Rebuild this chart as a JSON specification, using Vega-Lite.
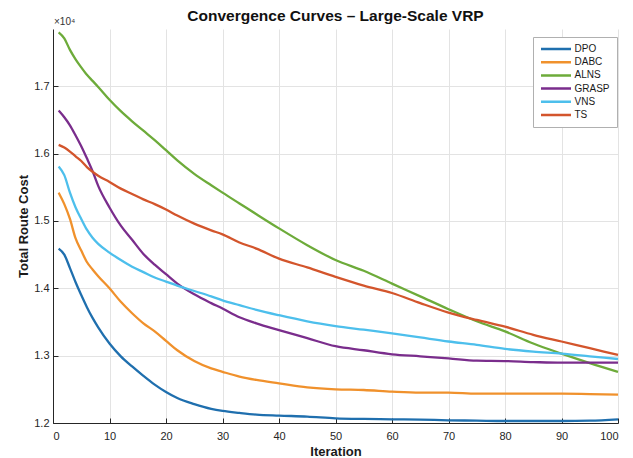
{
  "$schema": "https://vega.github.io/schema/vega-lite/v6.json",
  "width": 565,
  "height": 394,
  "autosize": {"type": "none"},
  "padding": {"left": 53, "top": 29, "right": 15, "bottom": 35},
  "background": "white",
  "config": {
    "font": "Liberation Sans",
    "view": {"stroke": null},
    "axis": {
      "gridColor": "#e3e3e3",
      "gridWidth": 1,
      "domainColor": "#262626",
      "domainWidth": 1,
      "tickColor": "#262626",
      "labelColor": "#262626",
      "labelFont": "Liberation Sans",
      "labelFontSize": 11,
      "titleFont": "Liberation Sans",
      "titleFontSize": 13,
      "titleFontWeight": "bold",
      "titleColor": "#1a1a1a"
    }
  },
  "title": {
    "text": "Convergence Curves – Large-Scale VRP",
    "fontSize": 15.5,
    "fontWeight": "bold",
    "font": "Liberation Sans",
    "color": "#111111",
    "anchor": "middle",
    "offset": -7
  },
  "data": {
    "values": [
      {"algo":"DPO","it":1,"cost":14590},{"algo":"DPO","it":2,"cost":14500},{"algo":"DPO","it":3,"cost":14300},{"algo":"DPO","it":4,"cost":14090},{"algo":"DPO","it":5,"cost":13900},{"algo":"DPO","it":6,"cost":13720},{"algo":"DPO","it":7,"cost":13560},{"algo":"DPO","it":8,"cost":13420},{"algo":"DPO","it":10,"cost":13180},{"algo":"DPO","it":12,"cost":12990},{"algo":"DPO","it":14,"cost":12840},{"algo":"DPO","it":16,"cost":12700},{"algo":"DPO","it":18,"cost":12570},{"algo":"DPO","it":20,"cost":12460},{"algo":"DPO","it":22,"cost":12370},{"algo":"DPO","it":25,"cost":12280},{"algo":"DPO","it":28,"cost":12210},{"algo":"DPO","it":30,"cost":12180},{"algo":"DPO","it":33,"cost":12150},{"algo":"DPO","it":36,"cost":12125},{"algo":"DPO","it":40,"cost":12110},{"algo":"DPO","it":45,"cost":12095},{"algo":"DPO","it":50,"cost":12070},{"algo":"DPO","it":55,"cost":12060},{"algo":"DPO","it":60,"cost":12055},{"algo":"DPO","it":65,"cost":12050},{"algo":"DPO","it":70,"cost":12040},{"algo":"DPO","it":75,"cost":12035},{"algo":"DPO","it":80,"cost":12030},{"algo":"DPO","it":85,"cost":12030},{"algo":"DPO","it":90,"cost":12030},{"algo":"DPO","it":95,"cost":12035},{"algo":"DPO","it":100,"cost":12055},
      {"algo":"DABC","it":1,"cost":15420},{"algo":"DABC","it":2,"cost":15250},{"algo":"DABC","it":3,"cost":15030},{"algo":"DABC","it":4,"cost":14740},{"algo":"DABC","it":5,"cost":14560},{"algo":"DABC","it":6,"cost":14390},{"algo":"DABC","it":7,"cost":14280},{"algo":"DABC","it":8,"cost":14180},{"algo":"DABC","it":10,"cost":14000},{"algo":"DABC","it":12,"cost":13800},{"algo":"DABC","it":14,"cost":13630},{"algo":"DABC","it":16,"cost":13480},{"algo":"DABC","it":18,"cost":13360},{"algo":"DABC","it":20,"cost":13220},{"algo":"DABC","it":22,"cost":13080},{"algo":"DABC","it":25,"cost":12920},{"algo":"DABC","it":28,"cost":12810},{"algo":"DABC","it":30,"cost":12760},{"algo":"DABC","it":33,"cost":12690},{"algo":"DABC","it":36,"cost":12640},{"algo":"DABC","it":40,"cost":12590},{"algo":"DABC","it":45,"cost":12530},{"algo":"DABC","it":50,"cost":12500},{"algo":"DABC","it":55,"cost":12490},{"algo":"DABC","it":60,"cost":12465},{"algo":"DABC","it":65,"cost":12450},{"algo":"DABC","it":70,"cost":12450},{"algo":"DABC","it":75,"cost":12435},{"algo":"DABC","it":80,"cost":12435},{"algo":"DABC","it":85,"cost":12435},{"algo":"DABC","it":90,"cost":12435},{"algo":"DABC","it":95,"cost":12430},{"algo":"DABC","it":100,"cost":12420},
      {"algo":"ALNS","it":1,"cost":17800},{"algo":"ALNS","it":2,"cost":17710},{"algo":"ALNS","it":3,"cost":17540},{"algo":"ALNS","it":4,"cost":17400},{"algo":"ALNS","it":5,"cost":17280},{"algo":"ALNS","it":6,"cost":17170},{"algo":"ALNS","it":7,"cost":17080},{"algo":"ALNS","it":8,"cost":16990},{"algo":"ALNS","it":10,"cost":16800},{"algo":"ALNS","it":12,"cost":16630},{"algo":"ALNS","it":14,"cost":16480},{"algo":"ALNS","it":16,"cost":16340},{"algo":"ALNS","it":18,"cost":16200},{"algo":"ALNS","it":20,"cost":16050},{"algo":"ALNS","it":22,"cost":15900},{"algo":"ALNS","it":25,"cost":15700},{"algo":"ALNS","it":28,"cost":15530},{"algo":"ALNS","it":30,"cost":15420},{"algo":"ALNS","it":33,"cost":15260},{"algo":"ALNS","it":36,"cost":15100},{"algo":"ALNS","it":40,"cost":14890},{"algo":"ALNS","it":45,"cost":14640},{"algo":"ALNS","it":50,"cost":14420},{"algo":"ALNS","it":55,"cost":14260},{"algo":"ALNS","it":60,"cost":14070},{"algo":"ALNS","it":65,"cost":13880},{"algo":"ALNS","it":70,"cost":13690},{"algo":"ALNS","it":75,"cost":13510},{"algo":"ALNS","it":80,"cost":13360},{"algo":"ALNS","it":85,"cost":13180},{"algo":"ALNS","it":90,"cost":13030},{"algo":"ALNS","it":95,"cost":12890},{"algo":"ALNS","it":100,"cost":12760},
      {"algo":"GRASP","it":1,"cost":16640},{"algo":"GRASP","it":2,"cost":16540},{"algo":"GRASP","it":3,"cost":16420},{"algo":"GRASP","it":4,"cost":16270},{"algo":"GRASP","it":5,"cost":16110},{"algo":"GRASP","it":6,"cost":15930},{"algo":"GRASP","it":7,"cost":15740},{"algo":"GRASP","it":8,"cost":15520},{"algo":"GRASP","it":10,"cost":15200},{"algo":"GRASP","it":12,"cost":14930},{"algo":"GRASP","it":14,"cost":14720},{"algo":"GRASP","it":16,"cost":14510},{"algo":"GRASP","it":18,"cost":14350},{"algo":"GRASP","it":20,"cost":14210},{"algo":"GRASP","it":22,"cost":14070},{"algo":"GRASP","it":25,"cost":13910},{"algo":"GRASP","it":28,"cost":13780},{"algo":"GRASP","it":30,"cost":13700},{"algo":"GRASP","it":33,"cost":13570},{"algo":"GRASP","it":36,"cost":13480},{"algo":"GRASP","it":40,"cost":13380},{"algo":"GRASP","it":45,"cost":13260},{"algo":"GRASP","it":50,"cost":13140},{"algo":"GRASP","it":55,"cost":13080},{"algo":"GRASP","it":60,"cost":13020},{"algo":"GRASP","it":65,"cost":12990},{"algo":"GRASP","it":70,"cost":12960},{"algo":"GRASP","it":75,"cost":12925},{"algo":"GRASP","it":80,"cost":12920},{"algo":"GRASP","it":85,"cost":12905},{"algo":"GRASP","it":90,"cost":12895},{"algo":"GRASP","it":95,"cost":12895},{"algo":"GRASP","it":100,"cost":12895},
      {"algo":"VNS","it":1,"cost":15810},{"algo":"VNS","it":2,"cost":15680},{"algo":"VNS","it":3,"cost":15420},{"algo":"VNS","it":4,"cost":15200},{"algo":"VNS","it":5,"cost":15030},{"algo":"VNS","it":6,"cost":14870},{"algo":"VNS","it":7,"cost":14750},{"algo":"VNS","it":8,"cost":14660},{"algo":"VNS","it":10,"cost":14530},{"algo":"VNS","it":12,"cost":14420},{"algo":"VNS","it":14,"cost":14320},{"algo":"VNS","it":16,"cost":14240},{"algo":"VNS","it":18,"cost":14160},{"algo":"VNS","it":20,"cost":14100},{"algo":"VNS","it":22,"cost":14040},{"algo":"VNS","it":25,"cost":13960},{"algo":"VNS","it":28,"cost":13880},{"algo":"VNS","it":30,"cost":13820},{"algo":"VNS","it":33,"cost":13750},{"algo":"VNS","it":36,"cost":13680},{"algo":"VNS","it":40,"cost":13600},{"algo":"VNS","it":45,"cost":13510},{"algo":"VNS","it":50,"cost":13440},{"algo":"VNS","it":55,"cost":13385},{"algo":"VNS","it":60,"cost":13330},{"algo":"VNS","it":65,"cost":13270},{"algo":"VNS","it":70,"cost":13210},{"algo":"VNS","it":75,"cost":13160},{"algo":"VNS","it":80,"cost":13100},{"algo":"VNS","it":85,"cost":13060},{"algo":"VNS","it":90,"cost":13030},{"algo":"VNS","it":95,"cost":12990},{"algo":"VNS","it":100,"cost":12950},
      {"algo":"TS","it":1,"cost":16130},{"algo":"TS","it":2,"cost":16090},{"algo":"TS","it":3,"cost":16030},{"algo":"TS","it":4,"cost":15960},{"algo":"TS","it":5,"cost":15890},{"algo":"TS","it":6,"cost":15800},{"algo":"TS","it":7,"cost":15730},{"algo":"TS","it":8,"cost":15670},{"algo":"TS","it":10,"cost":15580},{"algo":"TS","it":12,"cost":15480},{"algo":"TS","it":14,"cost":15400},{"algo":"TS","it":16,"cost":15320},{"algo":"TS","it":18,"cost":15250},{"algo":"TS","it":20,"cost":15170},{"algo":"TS","it":22,"cost":15080},{"algo":"TS","it":25,"cost":14960},{"algo":"TS","it":28,"cost":14860},{"algo":"TS","it":30,"cost":14800},{"algo":"TS","it":33,"cost":14680},{"algo":"TS","it":36,"cost":14590},{"algo":"TS","it":40,"cost":14440},{"algo":"TS","it":45,"cost":14310},{"algo":"TS","it":50,"cost":14170},{"algo":"TS","it":55,"cost":14040},{"algo":"TS","it":60,"cost":13930},{"algo":"TS","it":65,"cost":13780},{"algo":"TS","it":70,"cost":13640},{"algo":"TS","it":75,"cost":13530},{"algo":"TS","it":80,"cost":13430},{"algo":"TS","it":85,"cost":13310},{"algo":"TS","it":90,"cost":13210},{"algo":"TS","it":95,"cost":13110},{"algo":"TS","it":100,"cost":13010}
    ]
  },
  "layer": [
    {
      "mark": {"type": "line", "strokeWidth": 2.3, "interpolate": "monotone"},
      "encoding": {
        "x": {
          "field": "it", "type": "quantitative",
          "scale": {"domain": [0, 100], "nice": false},
          "axis": {"title": "Iteration", "values": [0,10,20,30,40,50,60,70,80,90,100], "tickSize": -5, "labelPadding": 12, "titlePadding": 4, "grid": true}
        },
        "y": {
          "field": "cost", "type": "quantitative",
          "scale": {"domain": [12000, 17850], "nice": false, "zero": false},
          "axis": {"title": "Total Route Cost", "values": [12000,13000,14000,15000,16000,17000], "labelExpr": "format(datum.value/10000, '.1f')", "tickSize": -5, "labelPadding": 9, "titlePadding": 3, "grid": true}
        },
        "color": {
          "field": "algo", "type": "nominal",
          "scale": {
            "domain": ["DPO","DABC","ALNS","GRASP","VNS","TS"],
            "range": ["#1f6fae","#f0912c","#6dab3a","#7a2d8c","#4dbfec","#d3552c"]
          },
          "legend": {
            "title": null,
            "orient": "none",
            "legendX": 480,
            "legendY": 8,
            "symbolType": "stroke",
            "symbolSize": 900,
            "symbolStrokeWidth": 2.5,
            "labelFontSize": 10,
            "labelFont": "Liberation Sans",
            "labelColor": "#1a1a1a",
            "labelOffset": 2,
            "clipHeight": 11,
            "rowPadding": 2.2,
            "padding": 6.5,
            "strokeColor": "#b0b0b0",
            "fillColor": "white"
          }
        }
      }
    },
    {
      "data": {"values": [{}]},
      "mark": {"type": "text", "text": "×10⁴", "align": "left", "baseline": "bottom", "dy": -2, "dx": 1, "fontSize": 10, "font": "Liberation Sans", "color": "#333333"},
      "encoding": {
        "x": {"datum": 0, "type": "quantitative"},
        "y": {"datum": 17850, "type": "quantitative"}
      }
    }
  ]
}
